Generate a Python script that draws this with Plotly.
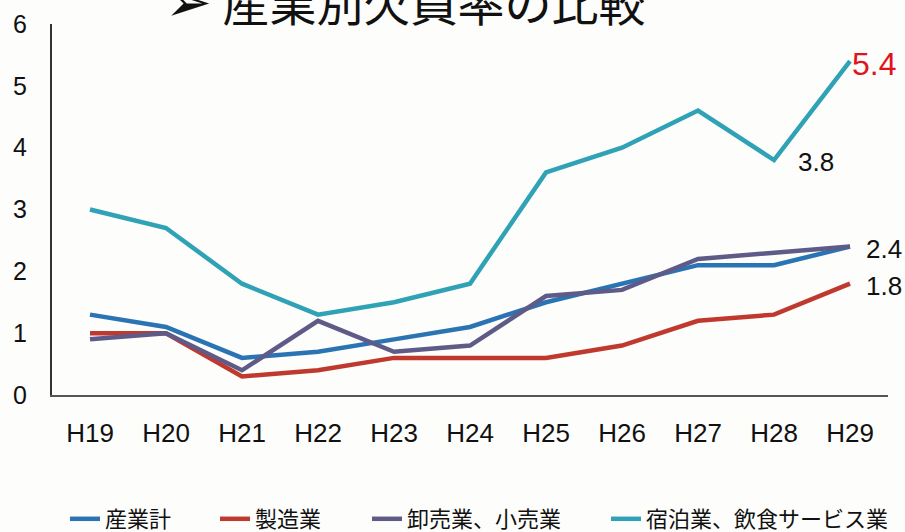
import plotly.graph_objects as go

# 年度（平成）
years = ["H19", "H20", "H21", "H22", "H23", "H24", "H25", "H26", "H27", "H28", "H29"]

# 産業別の欠員率（%）
all_industries = [1.3, 1.1, 0.6, 0.7, 0.9, 1.1, 1.5, 1.8, 2.1, 2.1, 2.4]
manufacturing = [1.0, 1.0, 0.3, 0.4, 0.6, 0.6, 0.6, 0.8, 1.2, 1.3, 1.8]
wholesale_retail = [0.9, 1.0, 0.4, 1.2, 0.7, 0.8, 1.6, 1.7, 2.2, 2.3, 2.4]
hospitality_food = [3.0, 2.7, 1.8, 1.3, 1.5, 1.8, 3.6, 4.0, 4.6, 3.8, 5.4]

series_names = ["産業計", "製造業", "卸売業、小売業", "宿泊業、飲食サービス業"]
series_values = [all_industries, manufacturing, wholesale_retail, hospitality_food]
series_colors = ["#2b74b3", "#c0392e", "#5f5b88", "#2fa2b6"]
legend_widths = [105, 107, 194, 250]

W, H = 905, 532
M_L, M_R, M_T, M_B = 52, 17, 24, 137
PW = W - M_L - M_R
PH = H - M_T - M_B


def px_x(p):
    return (p - M_L) / PW


def px_y(p):
    return (H - M_B - p) / PH


fig = go.Figure()
for name, vals, color, lw in zip(series_names, series_values, series_colors, legend_widths):
    fig.add_trace(go.Scatter(
        x=years, y=vals, name=name, mode="lines",
        line=dict(color=color, width=4.5),
        legendwidth=lw,
    ))

# 末尾の値ラベル
last = len(years) - 1
labels = [
    dict(x=years[last], y=hospitality_food[last], color="#e0141b", size=32, xshift=0, yshift=-3),
    dict(x=years[last - 1], y=hospitality_food[last - 1], color="#111111", size=26, xshift=22, yshift=-2),
    dict(x=years[last], y=wholesale_retail[last], color="#111111", size=26, xshift=14, yshift=-2),
    dict(x=years[last], y=manufacturing[last], color="#111111", size=26, xshift=14, yshift=-2),
]
for lb in labels:
    fig.add_annotation(
        x=lb["x"], y=lb["y"], xref="x", yref="y",
        text=f"{lb['y']:.1f}", showarrow=False,
        xanchor="left", yanchor="middle",
        xshift=lb["xshift"], yshift=lb["yshift"],
        font=dict(family="Liberation Sans, Arial, sans-serif", size=lb["size"], color=lb["color"]),
    )

# タイトル（上端で切れている）
fig.add_annotation(
    x=px_x(163), y=px_y(-4), xref="paper", yref="paper",
    text="<span style='font-size:56px'>➢</span> 産業別欠員率の比較", showarrow=False,
    xanchor="left", yanchor="middle",
    font=dict(family="Noto Sans CJK JP, sans-serif", size=47, color="#111111"),
)

fig.update_layout(
    width=W, height=H,
    margin=dict(l=M_L, r=M_R, t=M_T, b=M_B, autoexpand=False),
    paper_bgcolor="#fdfdfb",
    plot_bgcolor="#fdfdfb",
    showlegend=True,
    legend=dict(
        orientation="h", x=px_x(65), y=px_y(519),
        xanchor="left", yanchor="middle",
        font=dict(family="Noto Sans CJK JP, sans-serif", size=22, color="#111111"),
        bgcolor="rgba(0,0,0,0)", traceorder="normal",
    ),
    xaxis=dict(
        type="category", range=[-0.5, len(years) - 0.5],
        showgrid=False, zeroline=False,
        showline=True, linecolor="#555555", linewidth=2,
        ticks="", ticklabelstandoff=14,
        tickfont=dict(family="Liberation Sans, Arial, sans-serif", size=26, color="#111111"),
    ),
    yaxis=dict(
        range=[0, 6], dtick=1,
        showgrid=False, zeroline=False,
        showline=True, linecolor="#333333", linewidth=2,
        ticks="", ticklabelstandoff=18,
        tickfont=dict(family="Liberation Sans, Arial, sans-serif", size=25, color="#111111"),
    ),
)

fig.write_html("out.html")
